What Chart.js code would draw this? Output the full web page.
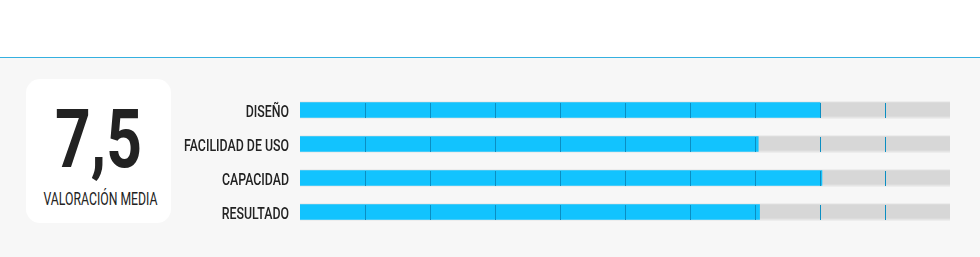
<!DOCTYPE html>
<html>
<head>
<meta charset="utf-8">
<script src="https://cdn.jsdelivr.net/npm/chart.js@4.4.1/dist/chart.umd.min.js"></script>
<style>
	html, body { margin: 0; padding: 0; }
	body { width: 980px; height: 257px; position: relative; overflow: hidden; background: #fff; font-family: Roboto, sans-serif; }
	.linea { position: absolute; left: 0; top: 57px; width: 980px; height: 1px; background: #35b0e0; }
	.panel { position: absolute; left: 0; top: 58px; width: 980px; height: 199px; background: #f7f7f7; }
	.caja { position: absolute; left: 26px; top: 79px; width: 145px; height: 144px; background: #fff; border-radius: 14px; }
	.nota { position: absolute; left: -40px; top: 19px; width: 225px; text-align: center; font-size: 82px; line-height: 82px; font-weight: 700; color: #222; transform: scaleX(0.76); }
	.subt { position: absolute; left: -38px; top: 111px; width: 225px; text-align: center; font-size: 18px; line-height: 18px; color: #222; transform: scaleX(0.68); white-space: nowrap; }
	#grafico { position: absolute; left: 0; top: 0; }
</style>
</head>
<body>
<div class="linea"></div>
<div class="panel"></div>
<div class="caja">
	<div class="nota" id="nota"></div>
	<div class="subt">VALORACIÓN MEDIA</div>
</div>
<canvas id="grafico" width="980" height="257"></canvas>
<script>
	var categorias = ['DISEÑO', 'FACILIDAD DE USO', 'CAPACIDAD', 'RESULTADO'];
	var puntuaciones = [8, 7.05, 8.03, 7.07];
	var maximos = [10, 10, 10, 10];
	var marcas = [1, 2, 3, 4, 5, 6, 7, 8, 9];
	var media = '7,5';

	document.getElementById('nota').textContent = media;

	// marcas verticales sobre las barras y etiquetas estrechas a la izquierda
	var marcasPlugin = {
		id: 'marcas',
		afterDatasetsDraw: function(chart) {
			var ctx = chart.ctx;
			var x = chart.scales.x;
			var y = chart.scales.y;
			ctx.save();
			ctx.strokeStyle = '#0b8ec2';
			ctx.lineWidth = 1;
			categorias.forEach(function(cat, i) {
				var cy = y.getPixelForValue(i);
				marcas.forEach(function(v) {
					var px = Math.round(x.getPixelForValue(v)) + 0.5;
					ctx.beginPath();
					ctx.moveTo(px, cy - 7);
					ctx.lineTo(px, cy + 8);
					ctx.stroke();
				});
			});
			ctx.restore();

			ctx.save();
			ctx.font = '500 17px Roboto';
			ctx.fillStyle = '#222';
			ctx.textAlign = 'right';
			ctx.textBaseline = 'alphabetic';
			var escala = 105 / ctx.measureText('FACILIDAD DE USO').width;
			categorias.forEach(function(cat, i) {
				var cy = y.getPixelForValue(i);
				ctx.save();
				ctx.translate(289, cy + 7);
				ctx.scale(escala, 1);
				ctx.fillText(cat, 0, 0);
				ctx.restore();
			});
			ctx.restore();
		}
	};

	var ctx = document.getElementById('grafico');
	new Chart(ctx, {
		type: 'bar',
		data: {
			labels: categorias,
			datasets: [
			{
				label: 'Valoración',
				data: puntuaciones,
				backgroundColor: '#12c3fe',
				barThickness: 15,
				grouped: false,
				order: 0
			},
			{
				label: 'Máximo',
				data: maximos,
				backgroundColor: '#d7d7d7',
				borderColor: '#e5e5e5',
				borderWidth: { top: 1, bottom: 2, left: 0, right: 0 },
				borderSkipped: false,
				barThickness: 17,
				grouped: false,
				order: 1
			}]
		},
		options: {
			indexAxis: 'y',
			responsive: false,
			animation: false,
			layout: { padding: { left: 300, right: 30, top: 93, bottom: 28 } },
			scales: {
				x: { min: 0, max: 10, display: false },
				y: { display: false }
			},
			plugins: {
				legend: { display: false },
				tooltip: { enabled: false }
			}
		},
		plugins: [marcasPlugin]
	});
</script>
</body>
</html>
